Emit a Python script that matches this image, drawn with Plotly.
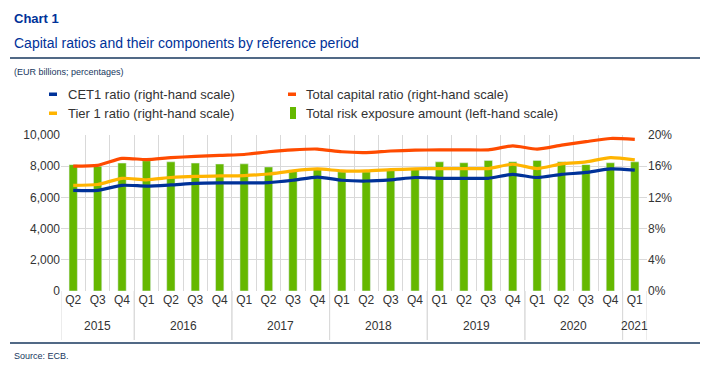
import plotly.graph_objects as go

# ---------------- data ----------------
years = ["2015"] * 3 + ["2016"] * 4 + ["2017"] * 4 + ["2018"] * 4 + ["2019"] * 4 + ["2020"] * 4 + ["2021"]
quarters = ["Q2", "Q3", "Q4"] + ["Q1", "Q2", "Q3", "Q4"] * 5 + ["Q1"]

trea = [8100, 8000, 8200, 8350, 8280, 8200, 8140, 8150,
        7950, 7750, 7800, 7640, 7640, 7750, 7800, 8280,
        8220, 8370, 8280, 8370, 8280, 8100, 8220, 8280]
total_capital = [16.0, 16.1, 17.0, 16.85, 17.1, 17.25, 17.4, 17.5,
                 17.85, 18.1, 18.2, 17.85, 17.75, 17.95, 18.05, 18.1,
                 18.1, 18.1, 18.6, 18.2, 18.7, 19.15, 19.55, 19.45]
tier1 = [13.55, 13.65, 14.45, 14.25, 14.55, 14.7, 14.75, 14.8,
         15.0, 15.4, 15.65, 15.4, 15.4, 15.55, 15.65, 15.7,
         15.7, 15.7, 16.25, 15.7, 16.3, 16.55, 17.1, 16.8]
cet1 = [12.9, 12.9, 13.55, 13.45, 13.6, 13.8, 13.85, 13.85,
        13.9, 14.2, 14.6, 14.2, 14.1, 14.25, 14.55, 14.45,
        14.45, 14.45, 14.95, 14.55, 14.95, 15.2, 15.65, 15.5]

left_ticks = [0, 2000, 4000, 6000, 8000, 10000]
right_ticks = [0, 4, 8, 12, 16, 20]

# ---------------- style ----------------
BLUE = "#003299"
ORANGE = "#FF4B00"
YELLOW = "#FFB400"
GREEN = "#65B800"
NAVY = "#17375E"
TXT = "#333333"
GRID = "#D9D9D9"
FONT = "Liberation Sans, Arial, sans-serif"

W, H = 713, 380
L, R, T, B = 61, 647, 135, 291  # plot area in pixels

n = len(quarters)
xi = list(range(n))
bounds = [i - 0.5 for i in range(n + 1)]

# year groups (derived from the years list)
groups = []
for i, yv in enumerate(years):
    if not groups or groups[-1][0] != yv:
        groups.append([yv, i, i])
    else:
        groups[-1][2] = i


def px(x):
    return (x - L) / (R - L)


def py(y):
    return (B - y) / (B - T)


fig = go.Figure()
fig.add_trace(go.Bar(x=xi, y=trea, marker_color=GREEN, name="Total risk exposure amount (left-hand scale)",
                     yaxis="y"))
for name, vals, col in [("CET1 ratio (right-hand scale)", cet1, BLUE),
                        ("Tier 1 ratio (right-hand scale)", tier1, YELLOW),
                        ("Total capital ratio (right-hand scale)", total_capital, ORANGE)]:
    fig.add_trace(go.Scatter(x=xi, y=vals, mode="lines", name=name, yaxis="y2",
                             line=dict(color=col, width=3.2, shape="spline", smoothing=0.6)))

fig.update_layout(
    width=W, height=H,
    margin=dict(l=L, r=W - R, t=T, b=H - B),
    paper_bgcolor="white", plot_bgcolor="white",
    font=dict(family=FONT, size=12, color=TXT),
    bargap=0.66,
    xaxis=dict(range=[-0.5, n - 0.5], tickmode="array", tickvals=xi, ticktext=quarters,
               showgrid=False, zeroline=False, showline=False, ticks="",
               minor=dict(tickmode="array", tickvals=bounds, showgrid=True, gridcolor=GRID, gridwidth=1,
                          ticks=""),
               tickfont=dict(family=FONT, size=12, color=TXT)),
    yaxis=dict(range=[0, 10000], tickmode="array", tickvals=left_ticks,
               ticktext=[f"{v:,}" for v in left_ticks], showgrid=True,
               gridcolor=GRID, gridwidth=1, zeroline=False, showline=False, ticks="",
               tickfont=dict(family=FONT, size=12, color=TXT)),
    yaxis2=dict(range=[0, 20], tickmode="array", tickvals=right_ticks,
                ticktext=[f"{v}%" for v in right_ticks], overlaying="y", side="right",
                showgrid=False, zeroline=False, showline=False, ticks="",
                tickfont=dict(family=FONT, size=12, color=TXT)),
    showlegend=False,
)

annotations = [
    dict(text="<b>Chart 1</b>", x=px(12), y=py(18), font=dict(size=13, color=BLUE)),
    dict(text="Capital ratios and their components by reference period", x=px(12), y=py(43),
         font=dict(size=14, color=BLUE)),
    dict(text="(EUR billions; percentages)", x=px(12), y=py(72), font=dict(size=9, color=NAVY)),
    dict(text="Source: ECB.", x=px(12), y=py(356), font=dict(size=9, color=NAVY)),
    dict(text="CET1 ratio (right-hand scale)", x=px(66), y=py(94), font=dict(size=13, color=TXT)),
    dict(text="Tier 1 ratio (right-hand scale)", x=px(66), y=py(113), font=dict(size=13, color=TXT)),
    dict(text="Total capital ratio (right-hand scale)", x=px(304), y=py(94), font=dict(size=13, color=TXT)),
    dict(text="Total risk exposure amount (left-hand scale)", x=px(304), y=py(113), font=dict(size=13, color=TXT)),
]
for a in annotations:
    a.update(xref="paper", yref="paper", xanchor="left", yanchor="middle", showarrow=False)
# year labels centred under their quarters
for yv, i0, i1 in groups:
    annotations.append(dict(text=yv, x=(i0 + i1) / 2, y=py(326), xref="x", yref="paper",
                            xanchor="center", yanchor="middle", showarrow=False,
                            font=dict(size=12, color=TXT)))
fig.update_layout(annotations=annotations)

shapes = [
    dict(type="line", x0=px(10), x1=px(700), y0=py(343), y1=py(343), line=dict(color=NAVY, width=1.5),
         xref="paper", yref="paper"),
    dict(type="line", x0=px(10), x1=px(700), y0=py(58), y1=py(58), line=dict(color=NAVY, width=1.5),
         xref="paper", yref="paper"),
    dict(type="rect", x0=px(49), x1=px(57), y0=py(92.5), y1=py(96), fillcolor=BLUE, line=dict(width=0),
         xref="paper", yref="paper"),
    dict(type="rect", x0=px(49), x1=px(57), y0=py(111.5), y1=py(115), fillcolor=YELLOW, line=dict(width=0),
         xref="paper", yref="paper"),
    dict(type="rect", x0=px(288), x1=px(296), y0=py(92.5), y1=py(96), fillcolor=ORANGE, line=dict(width=0),
         xref="paper", yref="paper"),
    dict(type="rect", x0=px(290), x1=px(296), y0=py(107), y1=py(119), fillcolor=GREEN, line=dict(width=0),
         xref="paper", yref="paper"),
]
# year dividers below the axis
for yv, i0, i1 in groups:
    for xb in (i0 - 0.5, i1 + 0.5):
        shapes.append(dict(type="line", x0=xb, x1=xb, y0=0, y1=py(340), xref="x", yref="paper",
                           line=dict(color=GRID, width=1)))
fig.update_layout(shapes=shapes)

fig.write_html("out.html", config={"displayModeBar": False},
               post_script="document.body.style.margin='0';")
